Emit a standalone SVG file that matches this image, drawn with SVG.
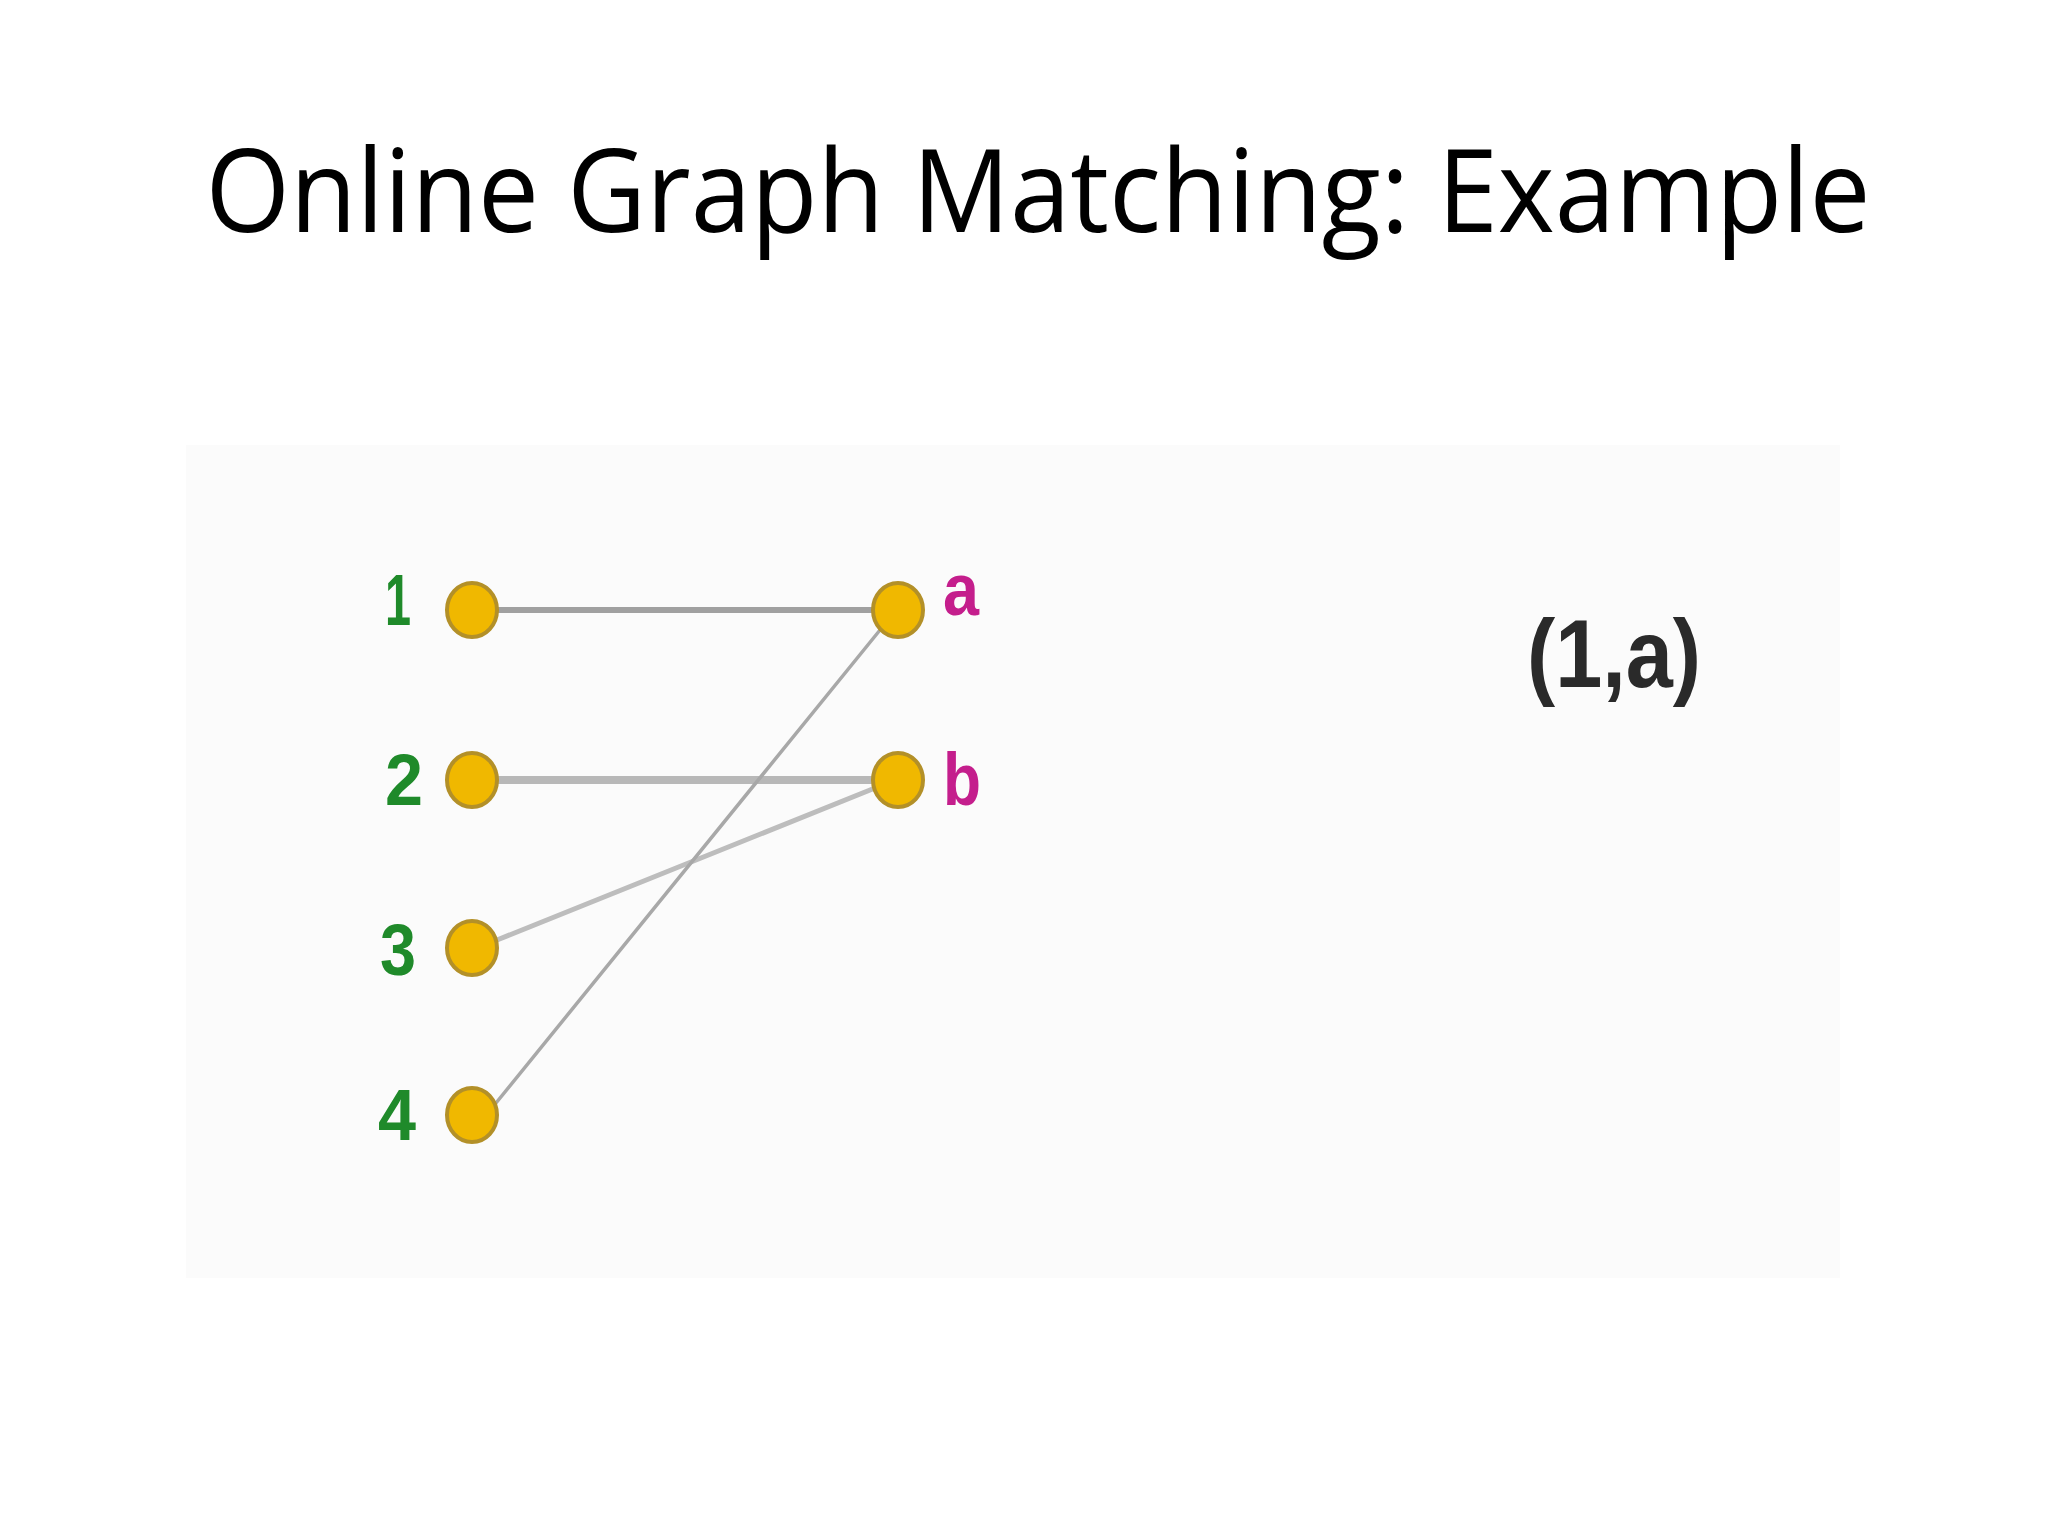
<svg xmlns="http://www.w3.org/2000/svg" width="2048" height="1536" viewBox="0 0 2048 1536">
<style>
.title{font-family:"Open Sans","Liberation Sans",sans-serif;font-size:116px;fill:#000}
.num{font-family:"Liberation Sans",Arial,sans-serif;font-weight:bold;font-size:72px;fill:#1f8a2a}
.let{font-family:"Liberation Sans",Arial,sans-serif;font-weight:bold;font-size:74px;fill:#c41e8c}
.node{fill:#f0b800;stroke:#b39028;stroke-width:4}
.edge{fill:none;stroke-linecap:round}
.pair{font-family:"Liberation Sans",Arial,sans-serif;font-weight:bold;font-size:96px;fill:#2a2a2a}
</style>
<rect width="2048" height="1536" fill="#ffffff"/>
<text class="title" x="1038" y="232" text-anchor="middle" textLength="1665" lengthAdjust="spacingAndGlyphs">Online Graph Matching: Example</text>
<rect x="186" y="445" width="1654" height="833" fill="#fbfbfb"/>
<g id="connectors">
<line class="edge" x1="472" y1="610" x2="898" y2="610" stroke="#a0a0a0" stroke-width="6"/>
<line class="edge" x1="472" y1="780" x2="898" y2="780" stroke="#b8b8b8" stroke-width="8"/>
<line class="edge" x1="497" y1="940" x2="880" y2="786" stroke="#bdbdbd" stroke-width="5"/>
<line class="edge" x1="496" y1="1103" x2="880" y2="630" stroke="#a8a8a8" stroke-width="3.5"/>
</g>
<g id="node-1"><ellipse class="node" cx="472" cy="610" rx="25" ry="27"/><text class="num" x="385" y="625" textLength="26" lengthAdjust="spacingAndGlyphs">1</text></g>
<g id="node-2"><ellipse class="node" cx="472" cy="780" rx="25" ry="27"/><text class="num" x="385" y="805" textLength="38" lengthAdjust="spacingAndGlyphs">2</text></g>
<g id="node-3"><ellipse class="node" cx="472" cy="948" rx="25" ry="27"/><text class="num" x="380" y="975" textLength="36" lengthAdjust="spacingAndGlyphs">3</text></g>
<g id="node-4"><ellipse class="node" cx="472" cy="1115" rx="25" ry="27"/><text class="num" x="378" y="1140" textLength="38" lengthAdjust="spacingAndGlyphs">4</text></g>
<g id="node-a"><ellipse class="node" cx="898" cy="610" rx="25" ry="27"/><text class="let" x="943" y="615" textLength="36" lengthAdjust="spacingAndGlyphs">a</text></g>
<g id="node-b"><ellipse class="node" cx="898" cy="780" rx="25" ry="27"/><text class="let" x="943" y="805" textLength="38" lengthAdjust="spacingAndGlyphs">b</text></g>
<g id="label-pair"><text class="pair" x="1527" y="687" textLength="174" lengthAdjust="spacingAndGlyphs">(1,a)</text></g>
</svg>
